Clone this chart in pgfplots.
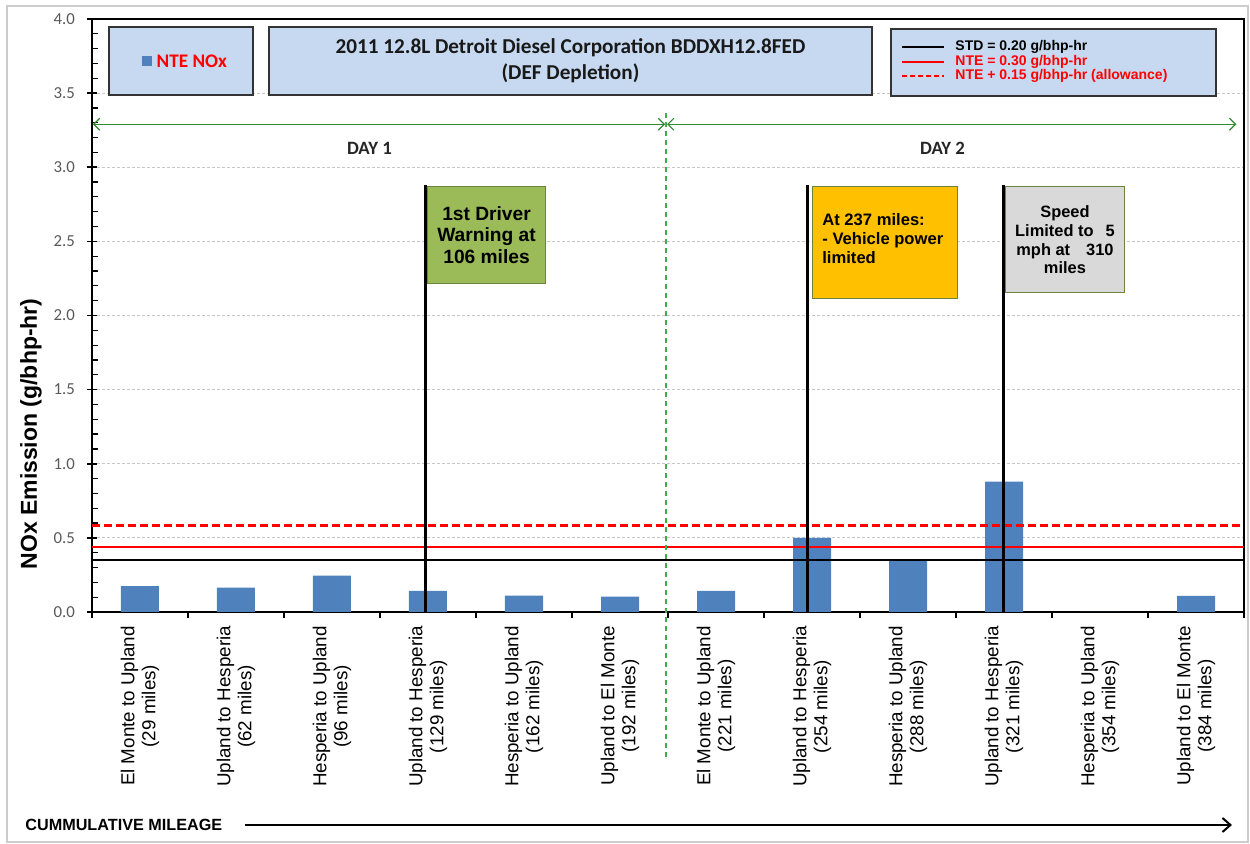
\documentclass[border=0pt]{standalone}
\usepackage{pgfplots}
\pgfplotsset{compat=1.18}
\usepackage{fontspec}
\setmainfont{Carlito}
\newfontfamily\arial{Liberation Sans}
\usetikzlibrary{arrows.meta}

\definecolor{barblue}{HTML}{4F81BD}
\definecolor{boxblue}{HTML}{C6D9F1}
\definecolor{daygreen}{HTML}{2E8B2E}
\definecolor{dashgreen}{HTML}{3CB043}
\definecolor{flaggreen}{HTML}{9BBB59}
\definecolor{flagorange}{HTML}{FFC000}
\definecolor{flaggray}{HTML}{D9D9D9}
\definecolor{ticklab}{HTML}{595959}

\begin{document}
\begin{tikzpicture}
\useasboundingbox (-46pt,-116pt) rectangle (579pt,306pt);
\draw[gray!40, line width=0.6pt] (-42.5pt,-115pt) rectangle (578pt,303pt);
\begin{axis}[
  at={(0,0)}, anchor=south west,
  scale only axis, width=576pt, height=296.5pt,
  xmin=-0.5, xmax=11.5, ymin=0, ymax=4,
  clip=false,
  axis line style={line width=1.2pt},
  xtick pos=bottom, ytick pos=left,
  tick align=outside,
  tick style={black, line width=0.8pt},
  major tick length=5pt,
  minor tick length=3pt,
  major y tick style={xshift=2.5pt},
  minor y tick style={xshift=3pt, line width=0.6pt},
  xtick={0,...,11},
  major x tick style={draw=none},
  minor xtick={-0.5,0.5,...,11.5},
  xticklabels={
    {El Monte to Upland\\(29 miles)},
    {Upland to Hesperia\\(62 miles)},
    {Hesperia to Upland\\(96 miles)},
    {Upland to Hesperia\\(129 miles)},
    {Hesperia to Upland\\(162 miles)},
    {Upland to El Monte\\(192 miles)},
    {El Monte to Upland\\(221 miles)},
    {Upland to Hesperia\\(254 miles)},
    {Hesperia to Upland\\(288 miles)},
    {Upland to Hesperia\\(321 miles)},
    {Hesperia to Upland\\(354 miles)},
    {Upland to El Monte\\(384 miles)}},
  xticklabel style={yshift=1.5pt, rotate=90, anchor=east, align=center,
    font=\arial\fontsize{9.4}{10.4}\selectfont},
  ytick={0,0.5,...,4},
  minor y tick num=4,
  yticklabel style={font=\fontsize{8.4}{10}\selectfont, text=ticklab},
  /pgf/number format/.cd, fixed, fixed zerofill, precision=1, assume math mode=true,
  /pgfplots/.cd,
  ymajorgrids,
  major grid style={gray!45, line width=0.4pt, dash pattern=on 1.5pt off 1pt},
]
% NTE NOx per trip
\addplot[ybar, bar width=19pt, fill=barblue, draw=none] coordinates {
  (0,0.175)(1,0.164)(2,0.245)(3,0.142)(4,0.110)(5,0.103)
  (6,0.142)(7,0.500)(8,0.350)(9,0.879)(10,0)(11,0.108)};

% limit lines
\addplot[black, line width=1pt] coordinates {(-0.5,0.35)(11.5,0.35)};
\addplot[red, line width=1pt] coordinates {(-0.5,0.44)(11.5,0.44)};
\addplot[red, line width=1.4pt, dash pattern=on 4pt off 2pt] coordinates {(-0.5,0.585)(11.5,0.585)};

% day split
\draw[dashgreen, line width=0.8pt, dash pattern=on 2.5pt off 2pt]
  (axis cs:5.48,3.366) -- (axis cs:5.48,-1.0);
\draw[daygreen, line width=0.6pt, {Straight Barb[length=3pt,width=6pt]}-{Straight Barb[length=3pt,width=6pt]}]
  (axis cs:-0.49,3.29) -- (axis cs:5.47,3.29);
\draw[daygreen, line width=0.6pt, {Straight Barb[length=3pt,width=6pt]}-{Straight Barb[length=3pt,width=6pt]}]
  (axis cs:5.49,3.29) -- (axis cs:11.42,3.29);
\node[font=\bfseries\fontsize{9.4}{10}\selectfont, text=black!85] at (axis cs:2.39,3.13) {DAY 1};
\node[font=\bfseries\fontsize{9.4}{10}\selectfont, text=black!85] at (axis cs:8.36,3.13) {DAY 2};

% header boxes
\draw[fill=boxblue, draw=black!80, line width=0.8pt] (axis cs:-0.323,3.946) rectangle (axis cs:1.177,3.487);
\node[fill=barblue, minimum size=5pt, inner sep=0] at (axis cs:0.073,3.717) {};
\node[anchor=west, inner sep=0, text=red, font=\bfseries\fontsize{9.6}{10}\selectfont] at (axis cs:0.17,3.717) {NTE NOx};

\draw[fill=boxblue, draw=black!80, line width=0.8pt] (axis cs:1.344,3.946) rectangle (axis cs:7.625,3.487);
\node[align=center, text=black!90, font=\bfseries\fontsize{10.6}{13}\selectfont] at (axis cs:4.484,3.716)
  {2011 12.8L Detroit Diesel Corporation BDDXH12.8FED\\(DEF Depletion)};

\draw[fill=boxblue, draw=black!80, line width=0.8pt] (axis cs:7.823,3.933) rectangle (axis cs:11.208,3.481);
\draw[black, line width=1pt] (axis cs:7.94,3.811) -- (axis cs:8.375,3.811);
\draw[red, line width=1pt] (axis cs:7.94,3.713) -- (axis cs:8.375,3.713);
\draw[red, line width=1pt, dash pattern=on 2.5pt off 1.5pt] (axis cs:7.94,3.615) -- (axis cs:8.375,3.615);
\node[anchor=west, inner sep=0, font=\arial\bfseries\fontsize{7}{8}\selectfont] at (axis cs:8.49,3.811) {STD = 0.20 g/bhp-hr};
\node[anchor=west, inner sep=0, text=red, font=\arial\bfseries\fontsize{7}{8}\selectfont] at (axis cs:8.49,3.713) {NTE = 0.30 g/bhp-hr};
\node[anchor=west, inner sep=0, text=red, font=\arial\bfseries\fontsize{7}{8}\selectfont] at (axis cs:8.49,3.615) {NTE + 0.15 g/bhp-hr (allowance)};

% flags
\draw[black, line width=1.5pt] (axis cs:2.969,0) -- (axis cs:2.969,2.88);
\draw[black, line width=1.5pt] (axis cs:6.958,0) -- (axis cs:6.958,2.88);
\draw[black, line width=1.5pt] (axis cs:8.99,0) -- (axis cs:8.99,2.88);

\draw[fill=flaggreen, draw=flaggreen!70!black, line width=0.5pt] (axis cs:3.0,2.867) rectangle (axis cs:4.219,2.219);
\node[align=center, font=\arial\bfseries\fontsize{9.6}{10.9}\selectfont] at (axis cs:3.61,2.543)
  {1st Driver\\Warning at\\106 miles};

\draw[fill=flagorange, draw=flaggreen!70!black, line width=0.5pt] (axis cs:7.01,2.873) rectangle (axis cs:8.52,2.118);
\node[anchor=west, align=left, inner sep=0, font=\arial\bfseries\fontsize{8.3}{9.5}\selectfont] at (axis cs:7.104,2.516)
  {At 237 miles:\\- Vehicle power\\limited};

\draw[fill=flaggray, draw=flaggreen!70!black, line width=0.5pt] (axis cs:9.02,2.867) rectangle (axis cs:10.25,2.152);
\node[align=center, font=\arial\bfseries\fontsize{8.2}{9.35}\selectfont] at (axis cs:9.635,2.509)
  {Speed\\Limited to\hspace{6pt}5\\mph at\hspace{8pt}310\\miles};
\end{axis}

\node[rotate=90, font=\arial\bfseries\fontsize{11.5}{13}\selectfont] at (-30.5pt,89pt) {NOx Emission (g/bhp-hr)};
\node[anchor=west, inner sep=0, font=\arial\bfseries\fontsize{8.1}{9}\selectfont] at (-33.5pt,-106.5pt) {CUMMULATIVE MILEAGE};
\draw[line width=1pt, -{Straight Barb[length=4pt,width=7pt]}] (76.5pt,-106.5pt) -- (570pt,-106.5pt);
\end{tikzpicture}
\end{document}
